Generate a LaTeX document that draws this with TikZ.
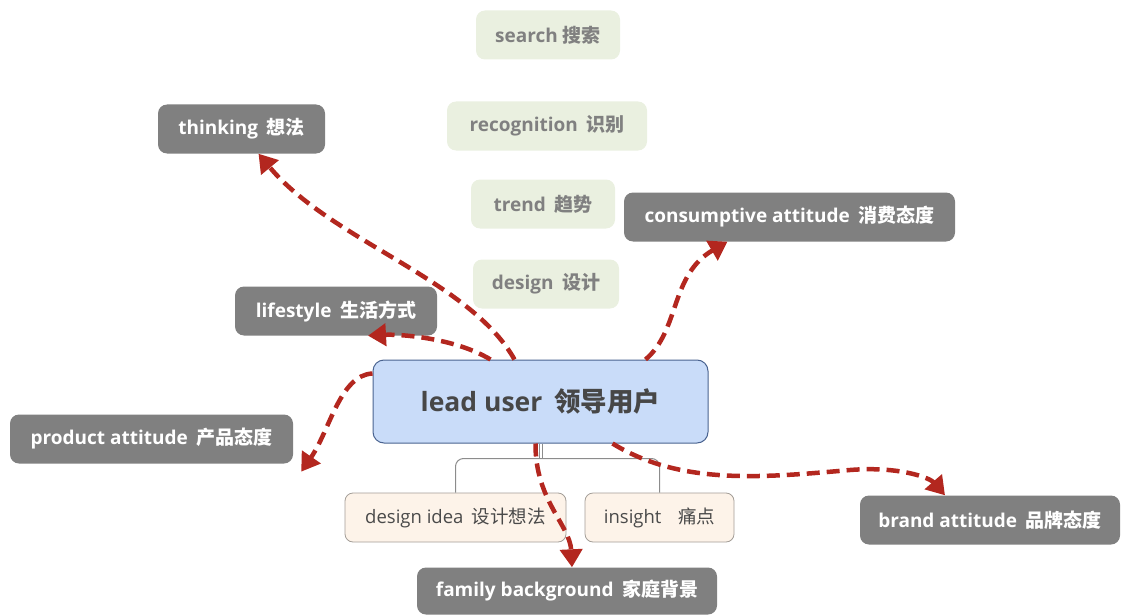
\documentclass[tikz,border=0pt]{standalone}
\usepackage{fontspec}
\setmainfont{Open Sans}
\newfontfamily\cjk{Noto Sans CJK SC}
\usetikzlibrary{arrows.meta}
\definecolor{greenfill}{HTML}{EAF0E0}
\definecolor{greentext}{HTML}{808080}
\definecolor{grayfill}{HTML}{808080}
\definecolor{leadfill}{HTML}{C9DCF9}
\definecolor{leaddraw}{HTML}{4A6390}
\definecolor{leadtext}{HTML}{474747}
\definecolor{ideafill}{HTML}{FDF3E9}
\definecolor{ideadraw}{HTML}{A39D97}
\definecolor{ideatext}{HTML}{4A4A4A}
\definecolor{treeline}{HTML}{8C8C8C}
\definecolor{redline}{HTML}{B3271F}
\newcommand{\zh}[1]{{\cjk #1}}
\newcommand{\gap}{\hspace{0.45em}}
\tikzset{
  greenbox/.style={fill=greenfill, text=greentext, rounded corners=9pt, inner sep=0pt,
    font=\fontsize{19}{22}\selectfont\bfseries, minimum height=49pt},
  graybox/.style={fill=grayfill, text=white, rounded corners=9pt, inner sep=0pt,
    font=\fontsize{19}{22}\selectfont\bfseries, minimum height=49pt},
  leadbox/.style={fill=leadfill, draw=leaddraw, line width=1pt, text=leadtext, rounded corners=11pt,
    inner sep=0pt, font=\fontsize{26.5}{31}\selectfont\bfseries, minimum width=335pt, minimum height=83pt},
  ideabox/.style={fill=ideafill, draw=ideadraw, line width=0.8pt, text=ideatext, rounded corners=8pt,
    inner sep=0pt, font=\fontsize{18.5}{22}\selectfont, minimum height=49pt},
  tree/.style={draw=treeline, line width=1pt, rounded corners=8pt},
  redarrow/.style={draw=redline, line width=4.5pt, dash pattern=on 13pt off 7pt,
    -{Triangle[width=22pt,length=18pt]}},
}
\begin{document}
\begin{tikzpicture}[x=1pt,y=-1pt]
\useasboundingbox (0,0) rectangle (1121,615);
% green boxes
\node[greenbox, minimum width=144pt] (search) at (548,35) {search \zh{搜索}};
\node[greenbox, minimum width=200pt] (recog) at (547,126) {recognition\gap\zh{识别}};
\node[greenbox, minimum width=144pt] (trend) at (543,204) {trend\gap\zh{趋势}};
\node[greenbox, minimum width=146pt] (design) at (546,284) {design\gap\zh{设计}};
% gray boxes
\node[graybox, minimum width=167pt] (thinking) at (241.5,129) {thinking\gap\zh{想法}};
\node[graybox, minimum width=331pt] (consum) at (789.5,217) {consumptive attitude\gap\zh{消费态度}};
\node[graybox, minimum width=202pt] (life) at (336,311) {lifestyle\gap\zh{生活方式}};
\node[graybox, minimum width=283pt] (product) at (151.5,439) {product attitude\gap\zh{产品态度}};
\node[graybox, minimum width=260pt] (brand) at (990,520) {brand attitude\gap\zh{品牌态度}};
\node[graybox, minimum width=300pt, minimum height=47pt] (family) at (567,591) {family background\gap\zh{家庭背景}};
% center
\node[leadbox] (lead) at (540.5,401.5) {lead user\gap\zh{领导用户}};
% sub boxes
\node[ideabox, minimum width=221pt] (idea) at (455.5,517.5) {design idea\gap\zh{设计想法}};
\node[ideabox, minimum width=149pt] (insight) at (659.5,517.5) {insight\gap\gap\zh{痛点}};
% tree connectors
\draw[tree] (idea.north) |- ([yshift=-15pt]lead.south) -| (insight.north);
\draw[draw=treeline, line width=0.8pt] ([xshift=-1.5pt]lead.south) -- ++(0,15);
\draw[draw=treeline, line width=0.8pt] ([xshift=1.5pt]lead.south) -- ++(0,15);
% red dashed arrows
\draw[redarrow] ([xshift=-26pt]lead.north) .. controls (470,280) and (330,240) .. ([xshift=17pt]thinking.south);
\draw[redarrow] ([xshift=-50pt]lead.north) .. controls (455,338) and (400,334) .. ([xshift=32pt]life.south);
\draw[redarrow] ([yshift=28pt]lead.west) .. controls (340,375) and (330,430) .. ([xshift=8pt,yshift=-8pt]product.south east);
\draw[redarrow] ([xshift=105pt]lead.north) .. controls (680,330) and (670,275) .. ([xshift=-62pt]consum.south);
\draw[redarrow] ([xshift=72pt]lead.south) .. controls (680,485) and (760,478) .. (850,470) .. controls (900,466) and (930,478) .. ([xshift=-45pt]brand.north);
\draw[redarrow] ([xshift=-5pt]lead.south) .. controls (535,500) and (570,525) .. ([xshift=5pt]family.north);
\end{tikzpicture}
\end{document}
